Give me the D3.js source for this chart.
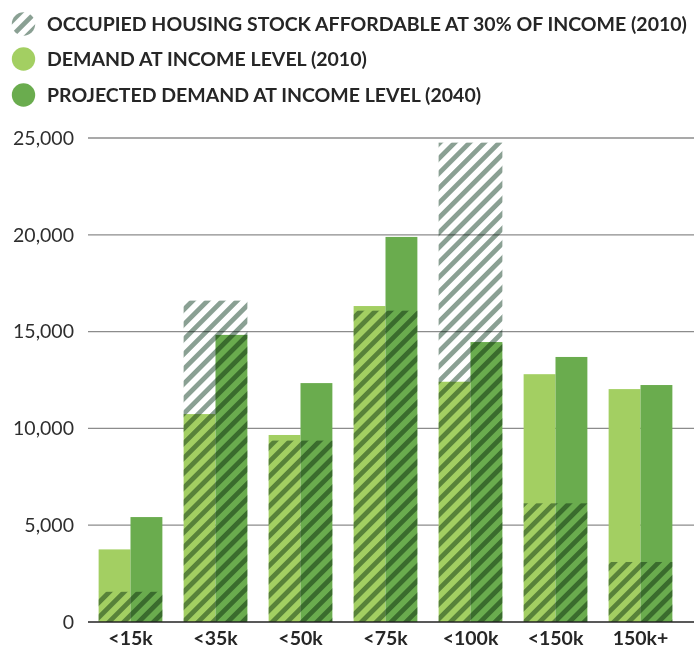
<!DOCTYPE html>
<html>
<head>
<meta charset="utf-8">
<script src="https://cdn.jsdelivr.net/npm/d3@7"></script>
<style>
  html, body { margin: 0; padding: 0; background: #fff; }
  svg { display: block; font-family: Lato, "Open Sans", sans-serif; }
</style>
</head>
<body>
<svg id="chart" width="694" height="650"></svg>
<script>
const categories = ["<15k", "<35k", "<50k", "<75k", "<100k", "<150k", "150k+"];
const demand2010 = [3750, 10740, 9660, 16320, 12410, 12800, 12030];
const demand2040 = [5420, 14830, 12340, 19890, 14460, 13690, 12240];
const stock2010  = [1560, 16600, 9370, 16080, 24760, 6130, 3100];
const yTicks = [0, 5000, 10000, 15000, 20000, 25000];
const legendLabels = [
  "OCCUPIED HOUSING STOCK AFFORDABLE AT 30% OF INCOME (2010)",
  "DEMAND AT INCOME LEVEL (2010)",
  "PROJECTED DEMAND AT INCOME LEVEL (2040)"
];

const colLight = "#a3cf62";
const colDark = "#6aac4e";
const colStripe = "#8aa093";

const svg = d3.select("#chart");

// pattern
const defs = svg.append("defs");
const pat = defs.append("pattern")
  .attr("id", "hatch")
  .attr("patternUnits", "userSpaceOnUse")
  .attr("width", 10.5).attr("height", 10.5)
  .attr("patternTransform", "rotate(45)");
pat.append("rect").attr("x", 0).attr("y", 0).attr("width", 4.8).attr("height", 10.5).attr("fill", colStripe);

const x = d3.scaleBand().domain(categories).range([88, 683]).paddingInner(0.25).paddingOuter(0.125);
const y = d3.scaleLinear().domain([0, 25000]).range([622, 138]);

// gridlines
svg.append("g").selectAll("line").data(yTicks.filter(d => d > 0)).join("line")
  .attr("x1", 88).attr("x2", 694)
  .attr("y1", d => y(d)).attr("y2", d => y(d))
  .attr("stroke", "#8c8c8c").attr("stroke-width", 1.3);

// y axis labels
const yAxis = d3.axisLeft(y).tickValues(yTicks).tickSize(0).tickPadding(0)
  .tickFormat(d3.format(","));
const gy = svg.append("g").attr("transform", "translate(74,0)").call(yAxis);
gy.select(".domain").remove();
gy.selectAll("text").attr("font-size", 19.5).attr("fill", "#2e2e2e").attr("font-family", "Lato, sans-serif");

const bw = x.bandwidth() / 2;
const g = svg.append("g");
g.selectAll("rect.light").data(categories).join("rect").attr("class", "light")
  .attr("x", d => x(d)).attr("width", bw)
  .attr("y", (d, i) => y(demand2010[i])).attr("height", (d, i) => y(0) - y(demand2010[i]))
  .attr("fill", colLight);
g.selectAll("rect.dark").data(categories).join("rect").attr("class", "dark")
  .attr("x", d => x(d) + bw).attr("width", bw)
  .attr("y", (d, i) => y(demand2040[i])).attr("height", (d, i) => y(0) - y(demand2040[i]))
  .attr("fill", colDark);
g.selectAll("rect.stock").data(categories).join("rect").attr("class", "stock")
  .attr("x", d => x(d)).attr("width", x.bandwidth())
  .attr("y", (d, i) => y(stock2010[i])).attr("height", (d, i) => y(0) - y(stock2010[i]))
  .attr("fill", "url(#hatch)")
  .style("mix-blend-mode", "multiply");

// baseline
svg.append("line").attr("x1", 88).attr("x2", 694).attr("y1", y(0)).attr("y2", y(0))
  .attr("stroke", "#222").attr("stroke-width", 1.5);

// x axis labels
const xAxis = d3.axisBottom(x).tickSize(0).tickPadding(0);
const gx = svg.append("g").attr("transform", `translate(0,${y(0) + 9})`).call(xAxis);
gx.select(".domain").remove();
gx.selectAll("text").attr("font-size", 19.5).attr("font-weight", "bold").attr("fill", "#262626")
  .attr("font-family", "Lato, sans-serif");

// legend
const legend = svg.append("g");
const ly = [24, 59, 95];
const fills = ["url(#hatch)", colLight, colDark];
legend.selectAll("circle").data(legendLabels).join("circle")
  .attr("cx", 23.5).attr("cy", (d, i) => ly[i]).attr("r", 11.7)
  .attr("fill", (d, i) => fills[i]);
legend.selectAll("text").data(legendLabels).join("text")
  .attr("x", 47).attr("y", (d, i) => ly[i]).attr("dy", "0.36em")
  .attr("font-size", 19.5).attr("font-weight", "bold").attr("fill", "#262626")
  .text(d => d);
</script>
</body>
</html>
